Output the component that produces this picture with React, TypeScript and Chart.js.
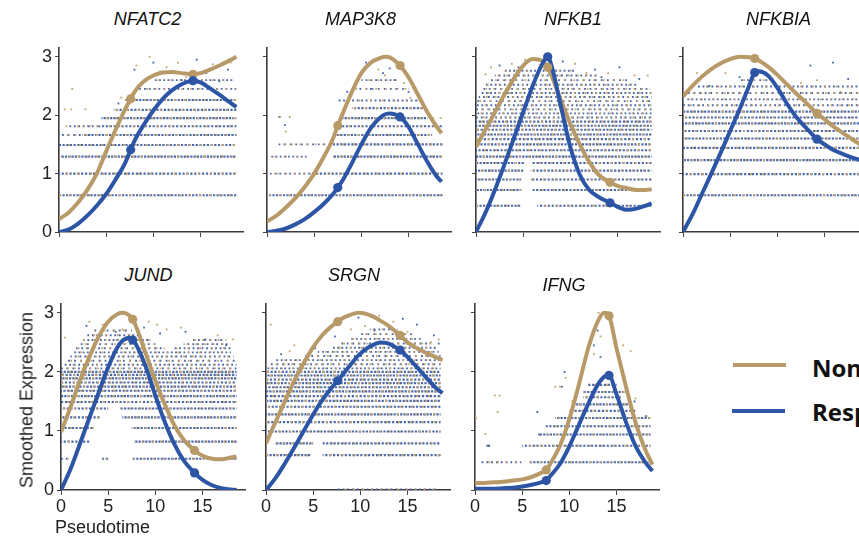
import React, { useEffect, useRef } from 'react';
import { Chart, registerables } from 'chart.js';
Chart.register(...registerables);

type Row = [number, number, number];
type Pt = [number, number];

const X_TICKS = [0, 5, 10, 15];
const Y_TICKS = [0, 1, 2, 3];
const X_MAX = 19.5;
const Y_MAX = 3.15;
const SERIES_NAMES = ['Non-responder', 'Responder'];

// ---------- NFATC2 ----------
const NFATC2_T = [0, 1, 2, 3, 4, 5, 6, 7, 7.6, 8, 9, 10, 11, 12, 13, 14.2, 15, 16, 17, 18, 18.8];
const NFATC2_NON = [0.22, 0.33, 0.5, 0.72, 1.0, 1.38, 1.75, 2.1, 2.28, 2.4, 2.58, 2.68, 2.73, 2.74, 2.72, 2.7, 2.72, 2.78, 2.85, 2.93, 3.0];
const NFATC2_RESP = [0, 0.04, 0.14, 0.28, 0.45, 0.65, 0.9, 1.18, 1.41, 1.56, 1.84, 2.08, 2.28, 2.43, 2.53, 2.59, 2.56, 2.46, 2.35, 2.23, 2.14];
const NFATC2_MARK_X = [7.6, 14.2];
const NFATC2_MARK_NON = [2.28, 2.7];
const NFATC2_MARK_RESP = [1.41, 2.59];
const NFATC2_ROWS: Row[] = [[0.63, 0, 18.8], [1.0, 0, 18.8], [1.29, 0.2, 18.8], [1.49, 0, 18.8], [1.66, 2.5, 18.8], [1.81, 4, 18.8], [1.95, 4.5, 18.8], [2.09, 5.8, 18.8], [2.26, 7, 18.8]];
const NFATC2_CLOUD: Row[] = [[2.45, 8.5, 18.8], [2.6, 10, 18.5], [1.66, 0.3, 2.5], [1.81, 1.0, 4]];
const NFATC2_DOTS_NON: Pt[] = [[1.4, 2.45], [0.6, 2.1], [1.3, 2.1], [2.8, 2.1], [0.8, 1.81], [2.6, 1.81], [8.2, 2.85], [9.6, 3.0], [10.7, 2.75], [11.4, 2.82], [12.6, 2.9], [16.3, 2.87], [18.2, 2.9], [13.5, 2.65], [6.6, 2.3]];
const NFATC2_DOTS_RESP: Pt[] = [[8.0, 2.78], [10.0, 2.9], [13.0, 2.6], [14.6, 2.95], [15.6, 2.72], [17.0, 2.58], [17.9, 2.78], [6.3, 2.2], [3.2, 1.66], [9.2, 2.62]];

// ---------- MAP3K8 ----------
const MAP3K8_T = [0, 1, 2, 3, 4, 5, 6, 7, 7.5, 8, 9, 10, 11, 12, 12.6, 13, 14.1, 15, 16, 17, 18, 18.5];
const MAP3K8_NON = [0.18, 0.28, 0.42, 0.58, 0.77, 1.0, 1.28, 1.6, 1.82, 2.02, 2.4, 2.72, 2.9, 2.98, 3.0, 2.99, 2.85, 2.65, 2.35, 2.05, 1.8, 1.69];
const MAP3K8_RESP = [0, 0.02, 0.06, 0.13, 0.22, 0.34, 0.48, 0.65, 0.76, 0.88, 1.18, 1.5, 1.78, 1.96, 2.02, 2.03, 1.97, 1.8, 1.5, 1.2, 0.95, 0.86];
const MAP3K8_MARK_X = [7.5, 14.1];
const MAP3K8_MARK_NON = [1.82, 2.85];
const MAP3K8_MARK_RESP = [0.76, 1.97];
const MAP3K8_ROWS: Row[] = [[0.63, 0.2, 18.6], [1.0, 4.5, 18.6], [1.29, 7, 18.6], [1.5, 7, 18.6], [1.66, 7.2, 17.5], [1.81, 7.4, 18.6], [1.95, 8, 17], [2.12, 9, 16.5]];
const MAP3K8_CLOUD: Row[] = [[1.0, 0.3, 4.5], [1.29, 0.3, 4.2], [1.5, 1.2, 7], [2.25, 7.5, 16], [2.45, 9, 15], [2.6, 10, 14]];
const MAP3K8_DOTS_NON: Pt[] = [[1.4, 1.97], [2.4, 1.97], [2.0, 1.72], [9.5, 2.58], [12.5, 2.68], [14.5, 2.55], [17.6, 1.95], [18.4, 1.95], [11.8, 2.78], [15.2, 2.3]];
const MAP3K8_DOTS_RESP: Pt[] = [[1.3, 1.97], [1.9, 1.83], [10.5, 2.9], [12.3, 2.72], [13.5, 2.6], [11.0, 2.45], [15.0, 2.4], [13.0, 2.8], [8.5, 2.4]];

// ---------- NFKB1 ----------
const NFKB1_T = [0, 1, 2, 3, 4, 5, 6, 7, 7.6, 8, 9, 10, 11, 12, 13, 14.2, 15, 16, 17, 18, 18.6];
const NFKB1_NON = [1.46, 1.75, 2.05, 2.35, 2.62, 2.85, 2.96, 2.93, 2.82, 2.68, 2.25, 1.85, 1.5, 1.2, 0.98, 0.85, 0.79, 0.75, 0.72, 0.72, 0.73];
const NFKB1_RESP = [0, 0.33, 0.72, 1.15, 1.6, 2.05, 2.5, 2.87, 3.0, 2.85, 2.15, 1.45, 0.98, 0.72, 0.6, 0.5, 0.43, 0.38, 0.4, 0.45, 0.49];
const NFKB1_MARK_X = [7.6, 14.2];
const NFKB1_MARK_NON = [2.82, 0.85];
const NFKB1_MARK_RESP = [3.0, 0.5];
const NFKB1_ROWS: Row[] = [[0.45, 0, 4.7], [0.45, 6.5, 18.6], [0.72, 0, 4.8], [0.72, 6, 18.6], [0.9, 0, 4.8], [0.9, 5.8, 18.6], [1.05, 0, 5], [1.05, 5.8, 18.6], [1.18, 0, 5.2], [1.18, 6, 18.6], [1.29, 0, 18.6], [1.4, 0, 18.6], [1.5, 0, 18.6], [1.59, 0, 18.6], [1.67, 0, 18.6], [1.75, 0, 18.6], [1.82, 0, 18.6], [1.89, 0, 18.6]];
const NFKB1_CLOUD: Row[] = [[1.96, 0, 18.6], [2.03, 0, 18.6], [2.1, 0, 18.6], [2.17, 0, 18.6], [2.24, 0, 18.6], [2.31, 0.3, 18.6], [2.38, 0.5, 18.6], [2.45, 0.8, 18.4], [2.52, 1, 17], [2.6, 1.5, 16], [2.68, 2, 13], [2.76, 3, 10.5]];
const NFKB1_DOTS_NON: Pt[] = [[1.0, 2.7], [1.6, 2.82], [3.8, 2.88], [5.2, 2.95], [8.2, 2.78], [10.5, 2.88], [11.7, 2.72], [14, 2.72], [16.8, 2.68], [18.2, 2.68], [6.8, 2.86]];
const NFKB1_DOTS_RESP: Pt[] = [[2.5, 2.85], [4.5, 2.82], [9.2, 2.92], [12.6, 2.78], [15.2, 2.82], [13.3, 2.65], [17.3, 2.62], [7.8, 2.7]];

// ---------- NFKBIA ----------
const NFKBIA_T = [0, 1, 2, 3, 4, 5, 6, 7, 7.6, 8, 9, 10, 11, 12, 13, 14.2, 15, 16, 17, 18, 19];
const NFKBIA_NON = [2.32, 2.5, 2.66, 2.79, 2.89, 2.96, 3.0, 2.99, 2.97, 2.94, 2.83, 2.69, 2.53, 2.37, 2.22, 2.03, 1.93, 1.8, 1.69, 1.58, 1.48];
const NFKBIA_RESP = [0, 0.3, 0.65, 1.0, 1.36, 1.73, 2.1, 2.5, 2.73, 2.75, 2.68, 2.47, 2.2, 1.97, 1.79, 1.59, 1.5, 1.4, 1.33, 1.27, 1.22];
const NFKBIA_MARK_X = [7.6, 14.2];
const NFKBIA_MARK_NON = [2.97, 2.03];
const NFKBIA_MARK_RESP = [2.73, 1.59];
const NFKBIA_ROWS: Row[] = [[0.63, 0, 19.3], [0.99, 0, 19.3], [1.23, 0, 19.3], [1.44, 0, 19.3], [1.6, 0, 19.3], [1.73, 0, 19.3], [1.86, 0, 19.3], [1.96, 0, 19.3], [2.06, 0, 19.3]];
const NFKBIA_CLOUD: Row[] = [[2.17, 0, 19.3], [2.27, 0.3, 19.3], [2.38, 0.5, 19.3], [2.49, 1.5, 19.3], [2.6, 6, 9.5]];
const NFKBIA_DOTS_NON: Pt[] = [[1.5, 2.72], [4.5, 2.72], [14.2, 2.6], [16.7, 2.4], [12.5, 2.55]];
const NFKBIA_DOTS_RESP: Pt[] = [[6.0, 2.65], [13.5, 2.85], [15.9, 2.9], [17.5, 2.62], [2.8, 2.5]];

// ---------- JUND ----------
const JUND_T = [0, 1, 2, 3, 4, 5, 6, 6.6, 7.2, 7.6, 8, 9, 10, 11, 12, 13, 14.15, 15, 16, 17, 18, 18.6];
const JUND_NON = [0.98, 1.4, 1.85, 2.25, 2.6, 2.85, 2.98, 3.0, 2.96, 2.89, 2.75, 2.3, 1.85, 1.45, 1.1, 0.85, 0.67, 0.58, 0.53, 0.52, 0.55, 0.57];
const JUND_RESP = [0, 0.35, 0.78, 1.22, 1.65, 2.08, 2.42, 2.54, 2.58, 2.54, 2.45, 2.08, 1.6, 1.15, 0.78, 0.5, 0.29, 0.17, 0.08, 0.03, 0.01, 0];
const JUND_MARK_X = [7.6, 14.15];
const JUND_MARK_NON = [2.89, 0.67];
const JUND_MARK_RESP = [2.54, 0.29];
const JUND_ROWS: Row[] = [[0.53, 7.6, 18.6], [0.82, 0, 3], [0.82, 7.8, 18.6], [1.05, 0, 3.5], [1.05, 7.5, 18.6], [1.23, 0, 4.2], [1.23, 6.5, 18.6], [1.38, 0, 5], [1.38, 6.3, 18.6], [1.49, 0, 18.6], [1.59, 0, 18.6], [1.68, 0, 18.6], [1.75, 0, 18.6], [1.82, 0, 18.6], [1.89, 0, 18.6], [1.95, 0, 18.6], [2.0, 0, 18.6]];
const JUND_CLOUD: Row[] = [[0.53, 0, 0.8], [0.53, 4.2, 5], [2.06, 0, 18.6], [2.12, 0.3, 18.6], [2.19, 0.6, 18.6], [2.26, 1, 18.3], [2.33, 1.3, 18], [2.4, 1.6, 11], [2.4, 12, 18], [2.47, 2, 10], [2.47, 13, 18], [2.54, 2.3, 9.5], [2.54, 14, 17.5], [2.62, 2.8, 8.5], [2.7, 3.5, 7.5]];
const JUND_DOTS_NON: Pt[] = [[3, 2.85], [4.4, 2.8], [6.5, 2.72], [10.2, 2.8], [11.2, 2.72], [12.7, 2.75], [16.6, 2.62], [18.2, 2.55], [0.4, 2.58], [9.3, 2.85]];
const JUND_DOTS_RESP: Pt[] = [[2.7, 2.78], [5.8, 2.68], [10.5, 2.65], [13.2, 2.68], [15.3, 2.55], [17.5, 2.45], [8.8, 2.75]];

// ---------- SRGN ----------
const SRGN_T = [0, 1, 2, 3, 4, 5, 6, 7, 7.6, 8, 9, 9.8, 11, 12.2, 13, 14.2, 15, 16, 17, 18, 18.7];
const SRGN_NON = [0.79, 1.15, 1.5, 1.85, 2.15, 2.42, 2.63, 2.78, 2.85, 2.9, 2.97, 3.0, 2.96, 2.86, 2.78, 2.62, 2.5, 2.4, 2.32, 2.25, 2.2];
const SRGN_RESP = [0, 0.2, 0.45, 0.72, 1.0, 1.28, 1.53, 1.74, 1.85, 1.93, 2.13, 2.28, 2.43, 2.5, 2.48, 2.37, 2.25, 2.08, 1.9, 1.73, 1.64];
const SRGN_MARK_X = [7.6, 14.2];
const SRGN_MARK_NON = [2.85, 2.62];
const SRGN_MARK_RESP = [1.85, 2.37];
const SRGN_ROWS: Row[] = [[0.59, 0, 4.8], [0.59, 6, 18.5], [0.79, 1, 5], [0.79, 6, 18.5], [0.99, 0, 18.5], [1.15, 0, 18.5], [1.28, 0, 18.5], [1.41, 0, 18.5], [1.51, 0, 18.5], [1.59, 0, 18.5], [1.67, 0, 18.5], [1.74, 0, 18.5], [1.81, 0, 18.5], [1.87, 0, 18.5], [1.94, 0, 18.5], [2.0, 0, 18.5]];
const SRGN_CLOUD: Row[] = [[0.01, 7.6, 18.3], [2.06, 0, 18.5], [2.13, 0.5, 18.5], [2.2, 1, 18.5], [2.27, 4, 18.5], [2.34, 5.5, 18.3], [2.41, 7, 18], [2.48, 8, 17.5], [2.56, 9, 16.5], [2.64, 10, 15.5], [2.72, 11, 14]];
const SRGN_DOTS_NON: Pt[] = [[0.5, 2.8], [2.5, 2.35], [3, 2.45], [4.5, 2.25], [9, 2.72], [10.5, 2.78], [13.5, 2.85], [15, 2.68], [17.5, 2.5], [12, 2.95], [18.3, 2.55]];
const SRGN_DOTS_RESP: Pt[] = [[1.6, 2.3], [5.2, 2.4], [7.3, 2.6], [9.8, 2.92], [11.5, 2.7], [14.5, 2.9], [16, 2.8], [17.8, 2.62], [18.3, 2.48]];

// ---------- IFNG ----------
const IFNG_T = [0, 1, 2, 3, 4, 5, 6, 7, 7.55, 8, 9, 10, 11, 12, 13, 13.7, 14.2, 15, 16, 17, 18, 18.8];
const IFNG_NON = [0.12, 0.12, 0.13, 0.14, 0.16, 0.18, 0.22, 0.29, 0.34, 0.45, 0.75, 1.2, 1.78, 2.4, 2.85, 3.0, 2.95, 2.4, 1.75, 1.15, 0.7, 0.43];
const IFNG_RESP = [0.02, 0.02, 0.02, 0.03, 0.04, 0.06, 0.09, 0.13, 0.16, 0.24, 0.44, 0.74, 1.1, 1.46, 1.78, 1.92, 1.94, 1.62, 1.15, 0.75, 0.48, 0.32];
const IFNG_MARK_X = [7.55, 14.2];
const IFNG_MARK_NON = [0.34, 2.95];
const IFNG_MARK_RESP = [0.16, 1.94];
const IFNG_ROWS: Row[] = [[0.47, 5.8, 18.6], [0.75, 5, 18.6], [0.94, 6.8, 18.6], [1.08, 7.5, 18.6], [1.22, 8.5, 18.6], [1.34, 10, 17], [1.45, 10.5, 16.5], [1.57, 11.5, 15.5], [1.66, 11.5, 16], [1.78, 12, 15]];
const IFNG_CLOUD: Row[] = [[0.47, 0.7, 4.9], [0.75, 1.2, 1.6]];
const IFNG_DOTS_NON: Pt[] = [[0.1, 1.22], [2.1, 1.6], [2.6, 1.6], [2.4, 1.32], [1.1, 0.95], [8.5, 1.75], [9.0, 1.75], [9.6, 1.9], [10.3, 1.5], [12.6, 2.3], [13.3, 2.6], [13.1, 3.0], [15.7, 2.45], [16.5, 2.35], [17.0, 1.55], [18.2, 1.25], [6.5, 0.75]];
const IFNG_DOTS_RESP: Pt[] = [[1.3, 0.75], [1.5, 0.75], [6.6, 1.32], [9.5, 2.0], [9.2, 1.75], [12.6, 2.45], [13.3, 2.25], [13.0, 2.7], [13.6, 3.0], [16.9, 1.5], [18.1, 1.25], [6.8, 0.94]];

interface Gene {
  name: string; t: number[]; non: number[]; resp: number[];
  markX: number[]; markNon: number[]; markResp: number[];
  rows: Row[]; cloud: Row[]; dotsNon: Pt[]; dotsResp: Pt[];
}

const GENES: Gene[] = [
  { name: 'NFATC2', t: NFATC2_T, non: NFATC2_NON, resp: NFATC2_RESP, markX: NFATC2_MARK_X, markNon: NFATC2_MARK_NON, markResp: NFATC2_MARK_RESP, rows: NFATC2_ROWS, cloud: NFATC2_CLOUD, dotsNon: NFATC2_DOTS_NON, dotsResp: NFATC2_DOTS_RESP },
  { name: 'MAP3K8', t: MAP3K8_T, non: MAP3K8_NON, resp: MAP3K8_RESP, markX: MAP3K8_MARK_X, markNon: MAP3K8_MARK_NON, markResp: MAP3K8_MARK_RESP, rows: MAP3K8_ROWS, cloud: MAP3K8_CLOUD, dotsNon: MAP3K8_DOTS_NON, dotsResp: MAP3K8_DOTS_RESP },
  { name: 'NFKB1', t: NFKB1_T, non: NFKB1_NON, resp: NFKB1_RESP, markX: NFKB1_MARK_X, markNon: NFKB1_MARK_NON, markResp: NFKB1_MARK_RESP, rows: NFKB1_ROWS, cloud: NFKB1_CLOUD, dotsNon: NFKB1_DOTS_NON, dotsResp: NFKB1_DOTS_RESP },
  { name: 'NFKBIA', t: NFKBIA_T, non: NFKBIA_NON, resp: NFKBIA_RESP, markX: NFKBIA_MARK_X, markNon: NFKBIA_MARK_NON, markResp: NFKBIA_MARK_RESP, rows: NFKBIA_ROWS, cloud: NFKBIA_CLOUD, dotsNon: NFKBIA_DOTS_NON, dotsResp: NFKBIA_DOTS_RESP },
  { name: 'JUND', t: JUND_T, non: JUND_NON, resp: JUND_RESP, markX: JUND_MARK_X, markNon: JUND_MARK_NON, markResp: JUND_MARK_RESP, rows: JUND_ROWS, cloud: JUND_CLOUD, dotsNon: JUND_DOTS_NON, dotsResp: JUND_DOTS_RESP },
  { name: 'SRGN', t: SRGN_T, non: SRGN_NON, resp: SRGN_RESP, markX: SRGN_MARK_X, markNon: SRGN_MARK_NON, markResp: SRGN_MARK_RESP, rows: SRGN_ROWS, cloud: SRGN_CLOUD, dotsNon: SRGN_DOTS_NON, dotsResp: SRGN_DOTS_RESP },
  { name: 'IFNG', t: IFNG_T, non: IFNG_NON, resp: IFNG_RESP, markX: IFNG_MARK_X, markNon: IFNG_MARK_NON, markResp: IFNG_MARK_RESP, rows: IFNG_ROWS, cloud: IFNG_CLOUD, dotsNon: IFNG_DOTS_NON, dotsResp: IFNG_DOTS_RESP },
];

// layout (pixel positions of each panel's plot area and title)
const LAYOUT = [
  { left: 59, top: 48, h: 184, yLabels: true, xLabels: false, tx: 147.5, ty: 18.5 },
  { left: 267, top: 48, h: 184, yLabels: false, xLabels: false, tx: 360.5, ty: 18.5 },
  { left: 476, top: 48, h: 184, yLabels: false, xLabels: false, tx: 573, ty: 18.5 },
  { left: 683, top: 48, h: 184, yLabels: false, xLabels: false, tx: 778.5, ty: 18.5 },
  { left: 61, top: 304, h: 185.5, yLabels: true, xLabels: true, tx: 148.5, ty: 275 },
  { left: 266, top: 304, h: 185.5, yLabels: false, xLabels: true, tx: 354, ty: 275 },
  { left: 475, top: 304, h: 185.5, yLabels: false, xLabels: true, tx: 564, ty: 285 },
];

const PLOT_W = 184;
const PAD_L = 44, PAD_T = 14, PAD_R = 8, PAD_B = 32;
const GOLD = '#B89A68';
const BLUE = '#2D55A5';
const ROW_BLUE = 'rgba(55,88,162,0.9)';
const ROW_GOLD = 'rgba(192,162,112,0.95)';
const FONT = "'Liberation Sans', Arial, sans-serif";

function rowPoints(rows: Row[]) {
  const pts: any[] = [];
  rows.forEach(([y, x0, x1]) => {
    pts.push({ x: x0, y }, { x: x1, y }, { x: x1, y: null });
  });
  return pts;
}

// per-row dash styling so neighbouring rows do not line up into columns
function rowSegment(dashLen: number, gaps: number[], step: number, base: number) {
  return {
    borderDash: (ctx: any) => {
      const i = Math.floor(ctx.p0DataIndex / 3);
      return [dashLen, gaps[i % gaps.length]];
    },
    borderDashOffset: (ctx: any) => {
      const i = Math.floor(ctx.p0DataIndex / 3);
      return base + ((i * step) % 13);
    },
  };
}

function Panel({ gene, lay }: { gene: Gene; lay: typeof LAYOUT[number] }) {
  const ref = useRef<HTMLCanvasElement>(null);
  const w = PAD_L + PLOT_W + PAD_R;
  const h = Math.round(PAD_T + lay.h + PAD_B);
  useEffect(() => {
    const curve = (ys: number[]) => gene.t.map((x, i) => ({ x, y: ys[i] }));
    const marks = (ys: number[]) => gene.markX.map((x, i) => ({ x, y: ys[i] }));
    const pts = (p: Pt[]) => p.map(([x, y]) => ({ x, y }));
    const chart = new Chart(ref.current!, {
      type: 'line',
      data: {
        datasets: [
          { label: SERIES_NAMES[1] + ' marks', data: marks(gene.markResp), showLine: false, pointRadius: 4.6, pointStyle: 'circle', backgroundColor: BLUE, borderWidth: 0, order: 0, clip: false } as any,
          { label: SERIES_NAMES[0] + ' marks', data: marks(gene.markNon), showLine: false, pointRadius: 4.6, pointStyle: 'circle', backgroundColor: GOLD, borderWidth: 0, order: 0.5, clip: false } as any,
          { label: SERIES_NAMES[1], data: curve(gene.resp), borderColor: BLUE, borderWidth: 4, pointRadius: 0, cubicInterpolationMode: 'monotone', order: 1 } as any,
          { label: SERIES_NAMES[0], data: curve(gene.non), borderColor: GOLD, borderWidth: 4, pointRadius: 0, cubicInterpolationMode: 'monotone', order: 2 } as any,
          { label: 'dots non', data: pts(gene.dotsNon), showLine: false, pointRadius: 1.3, pointStyle: 'rect', backgroundColor: ROW_GOLD, borderWidth: 0, order: 3 } as any,
          { label: 'dots resp', data: pts(gene.dotsResp), showLine: false, pointRadius: 1.3, pointStyle: 'rect', backgroundColor: ROW_BLUE, borderWidth: 0, order: 3 } as any,
          { label: 'rows gold', data: rowPoints(gene.rows), borderColor: ROW_GOLD, borderWidth: 2.1, pointRadius: 0, spanGaps: false, tension: 0, order: 4, segment: rowSegment(2, [8, 10, 7, 9], 5, 0) } as any,
          { label: 'rows blue', data: rowPoints(gene.rows), borderColor: ROW_BLUE, borderWidth: 2.1, pointRadius: 0, spanGaps: false, tension: 0, order: 5, segment: rowSegment(2.2, [1.3, 1.7, 1.1, 1.5], 1.3, 0) } as any,
          { label: 'cloud gold', data: rowPoints(gene.cloud), borderColor: ROW_GOLD, borderWidth: 1.9, pointRadius: 0, spanGaps: false, tension: 0, order: 4, segment: rowSegment(1.8, [7, 9, 6, 10, 8], 4.3, 2) } as any,
          { label: 'cloud blue', data: rowPoints(gene.cloud), borderColor: ROW_BLUE, borderWidth: 1.9, pointRadius: 0, spanGaps: false, tension: 0, order: 5, segment: rowSegment(1.8, [3, 2.4, 3.8, 2.7, 4.3], 2.7, 0) } as any,
        ],
      },
      options: {
        animation: false,
        responsive: false,
        events: [],
        layout: { padding: { top: PAD_T, right: PAD_R, left: 0, bottom: 0 } },
        plugins: { legend: { display: false }, tooltip: { enabled: false } },
        scales: {
          x: {
            type: 'linear', min: 0, max: X_MAX,
            afterFit: (s: any) => { s.height = PAD_B; },
            afterBuildTicks: (s: any) => { s.ticks = X_TICKS.map((v) => ({ value: v })); },
            ticks: { color: lay.xLabels ? '#222' : 'rgba(0,0,0,0)', font: { family: FONT, size: 18 }, padding: 1, maxRotation: 0, autoSkip: false },
            grid: { drawOnChartArea: false, drawTicks: true, tickLength: 5, color: '#444', lineWidth: 1 },
            border: { display: true, color: '#3a3a3a', width: 1.6 },
          },
          y: {
            type: 'linear', min: 0, max: Y_MAX,
            afterFit: (s: any) => { s.width = PAD_L; },
            afterBuildTicks: (s: any) => { s.ticks = Y_TICKS.map((v) => ({ value: v })); },
            ticks: { color: lay.yLabels ? '#222' : 'rgba(0,0,0,0)', font: { family: FONT, size: 18 }, padding: 3 },
            grid: { drawOnChartArea: false, drawTicks: true, tickLength: 4, color: '#444', lineWidth: 1 },
            border: { display: true, color: '#3a3a3a', width: 1.6 },
          },
        },
      } as any,
    });
    return () => chart.destroy();
  }, []);
  return (
    <canvas
      ref={ref}
      width={w}
      height={h}
      style={{ position: 'absolute', left: lay.left - PAD_L, top: lay.top - PAD_T, width: w, height: h }}
    />
  );
}

export default function App() {
  return (
    <div style={{ position: 'fixed', left: 0, top: 0, width: 859, height: 537, overflow: 'hidden', background: '#fff', fontFamily: FONT }}>
      {GENES.map((g, i) => (
        <Panel key={g.name} gene={g} lay={LAYOUT[i]} />
      ))}
      {GENES.map((g, i) => (
        <div key={g.name + 't'} style={{ position: 'absolute', left: LAYOUT[i].tx, top: LAYOUT[i].ty, transform: 'translate(-50%,-50%)', fontStyle: 'italic', fontSize: 18, color: '#111', whiteSpace: 'nowrap' }}>
          {g.name}
        </div>
      ))}
      <div style={{ position: 'absolute', left: 27, top: 400, transform: 'translate(-50%,-50%) rotate(-90deg)', fontSize: 18, color: '#222', whiteSpace: 'nowrap' }}>
        Smoothed Expression
      </div>
      <div style={{ position: 'absolute', left: 102.5, top: 527, transform: 'translate(-50%,-50%)', fontSize: 18, color: '#222', whiteSpace: 'nowrap' }}>
        Pseudotime
      </div>
      <div style={{ position: 'absolute', left: 733, top: 363, width: 53, height: 4, background: GOLD }} />
      <div style={{ position: 'absolute', left: 732, top: 409, width: 53, height: 4, background: BLUE }} />
      <div style={{ position: 'absolute', left: 812, top: 366.5, transform: 'translateY(-50%)', fontFamily: "'Open Sans', sans-serif", fontWeight: 700, fontSize: 24, color: '#111', whiteSpace: 'nowrap' }}>
        {SERIES_NAMES[0]}
      </div>
      <div style={{ position: 'absolute', left: 812, top: 411, transform: 'translateY(-50%)', fontFamily: "'Open Sans', sans-serif", fontWeight: 700, fontSize: 24, color: '#111', whiteSpace: 'nowrap' }}>
        {SERIES_NAMES[1]}
      </div>
    </div>
  );
}
